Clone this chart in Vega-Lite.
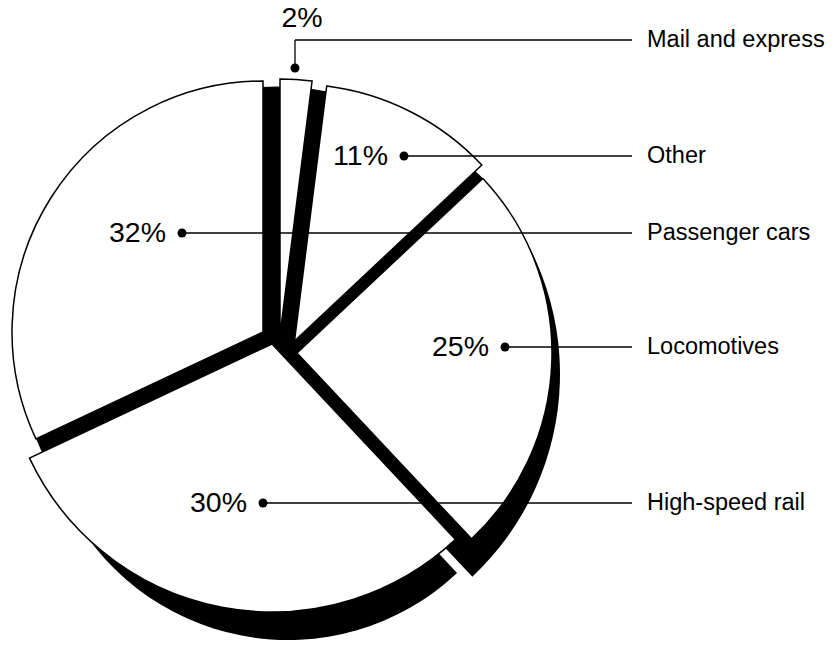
{
  "$schema": "https://vega.github.io/schema/vega-lite/v6.json",
  "width": 835,
  "height": 646,
  "autosize": {"type": "fit", "contains": "padding"},
  "padding": 0,
  "background": "white",
  "config": {"view": {"stroke": null}, "font": "Liberation Sans"},
  "data": {
    "values": [
      {"category": "Mail and express", "pct": 2},
      {"category": "Other", "pct": 11},
      {"category": "Locomotives", "pct": 25},
      {"category": "High-speed rail", "pct": 30},
      {"category": "Passenger cars", "pct": 32}
    ]
  },
  "transform": [
    {"stack": "pct", "groupby": [], "as": ["t0", "t1"]},
    {"calculate": "datum.pct + '%'", "as": "pctLabel"}
  ],
  "layer": [
    {
      "mark": {"type": "arc", "outerRadius": 258, "xOffset": -140.5, "yOffset": 22, "fill": "black", "stroke": "black", "strokeWidth": 1},
      "encoding": {
        "theta": {"field": "t0", "type": "quantitative", "stack": null, "scale": {"domain": [0, 100]}},
        "theta2": {"field": "t1"}
      }
    },
    {
      "transform": [{"filter": "datum.category === 'Other'"}],
      "mark": {"type": "arc", "outerRadius": 251, "xOffset": -112, "yOffset": 33, "fill": "black"},
      "encoding": {
        "theta": {"field": "t0", "type": "quantitative", "stack": null, "scale": {"domain": [0, 100]}},
        "theta2": {"field": "t1"}
      }
    },
    {
      "transform": [{"filter": "datum.category === 'Locomotives'"}],
      "mark": {"type": "arc", "outerRadius": 278, "xOffset": -135.5, "yOffset": 51, "fill": "black"},
      "encoding": {
        "theta": {"field": "t0", "type": "quantitative", "stack": null, "scale": {"domain": [0, 100]}},
        "theta2": {"field": "t1"}
      }
    },
    {
      "transform": [{"filter": "datum.category === 'High-speed rail'"}],
      "mark": {"type": "arc", "outerRadius": 247, "xOffset": -129.5, "yOffset": 70, "fill": "black"},
      "encoding": {
        "theta": {"field": "t0", "type": "quantitative", "stack": null, "scale": {"domain": [0, 100]}},
        "theta2": {"field": "t1"}
      }
    },
    {
      "transform": [{"filter": "datum.category === 'Mail and express'"}],
      "mark": {"type": "arc", "outerRadius": 256, "xOffset": -137.5, "yOffset": 12, "fill": "white", "stroke": "black", "strokeWidth": 1.5, "strokeJoin": "miter"},
      "encoding": {
        "theta": {"field": "t0", "type": "quantitative", "stack": null, "scale": {"domain": [0, 100]}},
        "theta2": {"field": "t1"}
      }
    },
    {
      "transform": [{"filter": "datum.category === 'Other'"}],
      "mark": {"type": "arc", "outerRadius": 257, "xOffset": -123, "yOffset": 18, "fill": "white", "stroke": "black", "strokeWidth": 1.5, "strokeJoin": "miter"},
      "encoding": {
        "theta": {"field": "t0", "type": "quantitative", "stack": null, "scale": {"domain": [0, 100]}},
        "theta2": {"field": "t1"}
      }
    },
    {
      "transform": [{"filter": "datum.category === 'Locomotives'"}],
      "mark": {"type": "arc", "outerRadius": 255, "xOffset": -120.5, "yOffset": 30, "fill": "white", "stroke": "black", "strokeWidth": 1.5, "strokeJoin": "miter"},
      "encoding": {
        "theta": {"field": "t0", "type": "quantitative", "stack": null, "scale": {"domain": [0, 100]}},
        "theta2": {"field": "t1"}
      }
    },
    {
      "transform": [{"filter": "datum.category === 'High-speed rail'"}],
      "mark": {"type": "arc", "outerRadius": 268, "xOffset": -145.5, "yOffset": 21, "fill": "white", "stroke": "black", "strokeWidth": 1.5, "strokeJoin": "miter"},
      "encoding": {
        "theta": {"field": "t0", "type": "quantitative", "stack": null, "scale": {"domain": [0, 100]}},
        "theta2": {"field": "t1"}
      }
    },
    {
      "transform": [{"filter": "datum.category === 'Passenger cars'"}],
      "mark": {"type": "arc", "outerRadius": 251, "xOffset": -154.5, "yOffset": 9, "fill": "white", "stroke": "black", "strokeWidth": 1.5, "strokeJoin": "miter"},
      "encoding": {
        "theta": {"field": "t0", "type": "quantitative", "stack": null, "scale": {"domain": [0, 100]}},
        "theta2": {"field": "t1"}
      }
    },
    {
      "mark": {"type": "rule", "color": "black", "strokeWidth": 1.3},
      "encoding": {
        "x": {"field": "pct", "type": "quantitative", "axis": null, "scale": {"domain": [2, 11, 25, 30, 32, 100], "range": [295, 404, 505, 263, 182, 632], "nice": false, "zero": false}},
        "x2": {"datum": 100},
        "y": {"field": "pct", "type": "quantitative", "axis": null, "scale": {"domain": [2, 11, 25, 30, 32], "range": [40, 156, 347, 503, 233], "nice": false, "zero": false}}
      }
    },
    {
      "transform": [{"filter": "datum.category === 'Mail and express'"}],
      "mark": {"type": "rule", "color": "black", "strokeWidth": 1.3, "y2Offset": 28},
      "encoding": {
        "x": {"field": "pct", "type": "quantitative"},
        "y": {"field": "pct", "type": "quantitative"},
        "y2": {"field": "pct"}
      }
    },
    {
      "transform": [{"filter": "datum.category !== 'Mail and express'"}],
      "mark": {"type": "circle", "size": 80, "color": "black", "opacity": 1},
      "encoding": {
        "x": {"field": "pct", "type": "quantitative"},
        "y": {"field": "pct", "type": "quantitative"}
      }
    },
    {
      "transform": [{"filter": "datum.category === 'Mail and express'"}],
      "mark": {"type": "circle", "size": 80, "color": "black", "opacity": 1, "yOffset": 28},
      "encoding": {
        "x": {"field": "pct", "type": "quantitative"},
        "y": {"field": "pct", "type": "quantitative"}
      }
    },
    {
      "transform": [{"filter": "datum.category !== 'Mail and express'"}],
      "mark": {"type": "text", "align": "right", "baseline": "middle", "dx": -16, "fontSize": 28.5, "color": "black"},
      "encoding": {
        "x": {"field": "pct", "type": "quantitative"},
        "y": {"field": "pct", "type": "quantitative"},
        "text": {"field": "pctLabel"}
      }
    },
    {
      "transform": [{"filter": "datum.category === 'Mail and express'"}],
      "mark": {"type": "text", "align": "center", "baseline": "middle", "dx": 7, "dy": -22, "fontSize": 28.5, "color": "black"},
      "encoding": {
        "x": {"field": "pct", "type": "quantitative"},
        "y": {"field": "pct", "type": "quantitative"},
        "text": {"field": "pctLabel"}
      }
    },
    {
      "mark": {"type": "text", "align": "left", "baseline": "middle", "dx": 15, "fontSize": 23.5, "color": "black"},
      "encoding": {
        "x": {"datum": 100},
        "y": {"field": "pct", "type": "quantitative"},
        "text": {"field": "category"}
      }
    }
  ]
}
